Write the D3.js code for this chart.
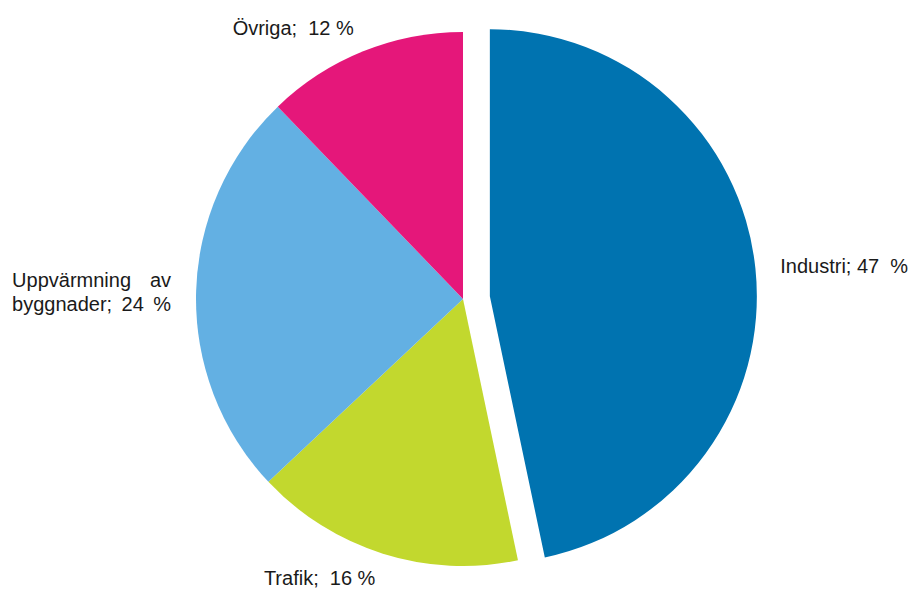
<!DOCTYPE html>
<html>
<head>
<meta charset="utf-8">
<script src="https://cdn.jsdelivr.net/npm/d3@7"></script>
<style>
  html, body { margin: 0; padding: 0; background: #ffffff; }
  svg { display: block; }
  text { font-family: "Liberation Sans", Arial, sans-serif; font-size: 20px; fill: #1a1a1a; white-space: pre; }
</style>
</head>
<body>
<svg id="chart" width="911" height="593"></svg>
<script>
// Data
const categories = ["Industri", "Trafik", "Uppvärmning av byggnader", "Övriga"];
const shares     = [46.7, 16.3, 24.8, 12.2];   // slice sizes (share of total)
const labelPct   = [47, 16, 24, 12];            // printed percentages
const colors     = ["#0073b0", "#c2d82e", "#63b0e3", "#e5177a"];
const exploded   = [true, false, false, false];

const W = 911, H = 593;
const cx = 463, cy = 299, R = 267;
const explodeDist = 27;
const labelGap = 25;
const wrapWidth = 160;

const svg = d3.select("#chart");
const g = svg.append("g").attr("transform", `translate(${cx},${cy})`);

const data = categories.map((c, i) => ({ name: c, value: shares[i], pct: labelPct[i], color: colors[i], explode: exploded[i] }));

const pie = d3.pie().value(d => d.value).sort(null).startAngle(0).endAngle(2 * Math.PI);
const arc = d3.arc().innerRadius(0).outerRadius(R);
const arcs = pie(data);

function offset(d) {
  if (!d.data.explode) return [0, 0];
  const a = (d.startAngle + d.endAngle) / 2;
  return [explodeDist * Math.sin(a), -explodeDist * Math.cos(a)];
}

g.selectAll("path.slice")
  .data(arcs)
  .join("path")
  .attr("class", "slice")
  .attr("d", arc)
  .attr("fill", d => d.data.color)
  .attr("transform", d => { const o = offset(d); return `translate(${o[0]},${o[1]})`; });

// Labels
const lineH = 24;
const meas = s => { const t = g.append("text").text(s); const w = t.node().getComputedTextLength(); t.remove(); return w; };

arcs.forEach(d => {
  const o = offset(d);
  const a = (d.startAngle + d.endAngle) / 2;
  const px = o[0] + (R + labelGap) * Math.sin(a);
  const py = o[1] - (R + labelGap) * Math.cos(a);
  const rightSide = Math.sin(a) >= 0;
  const full = d.data.name + ";  " + d.data.pct + " %";
  const fullW = meas(full);

  if (fullW <= wrapWidth + 40) {
    const txt = d.data.name === "Industri" ? d.data.name + "; " + d.data.pct + "  %" : full;
    g.append("text")
      .attr("x", px)
      .attr("y", py)
      .attr("dy", "0.35em")
      .attr("text-anchor", rightSide ? "start" : "end")
      .text(txt);
  } else {
    // wrap into lines and justify words across the block width
    const words = (d.data.name + "; " + d.data.pct + " %").split(" ");
    const lines = [];
    let cur = [];
    words.forEach(w => {
      const test = cur.concat([w]).join(" ");
      if (cur.length && meas(test) > wrapWidth) { lines.push(cur); cur = [w]; }
      else cur.push(w);
    });
    if (cur.length) lines.push(cur);
    const blockW = wrapWidth - 1;
    const x0 = rightSide ? px : px - blockW;
    const y0 = py - (lines.length - 1) * lineH / 2;
    lines.forEach((ln, li) => {
      const widths = ln.map(meas);
      const total = d3.sum(widths);
      const gap = ln.length > 1 ? (blockW - total) / (ln.length - 1) : 0;
      let x = x0;
      ln.forEach((w, wi) => {
        g.append("text")
          .attr("x", x)
          .attr("y", y0 + li * lineH)
          .attr("dy", "0.35em")
          .text(w);
        x += widths[wi] + gap;
      });
    });
  }
});
</script>
</body>
</html>
